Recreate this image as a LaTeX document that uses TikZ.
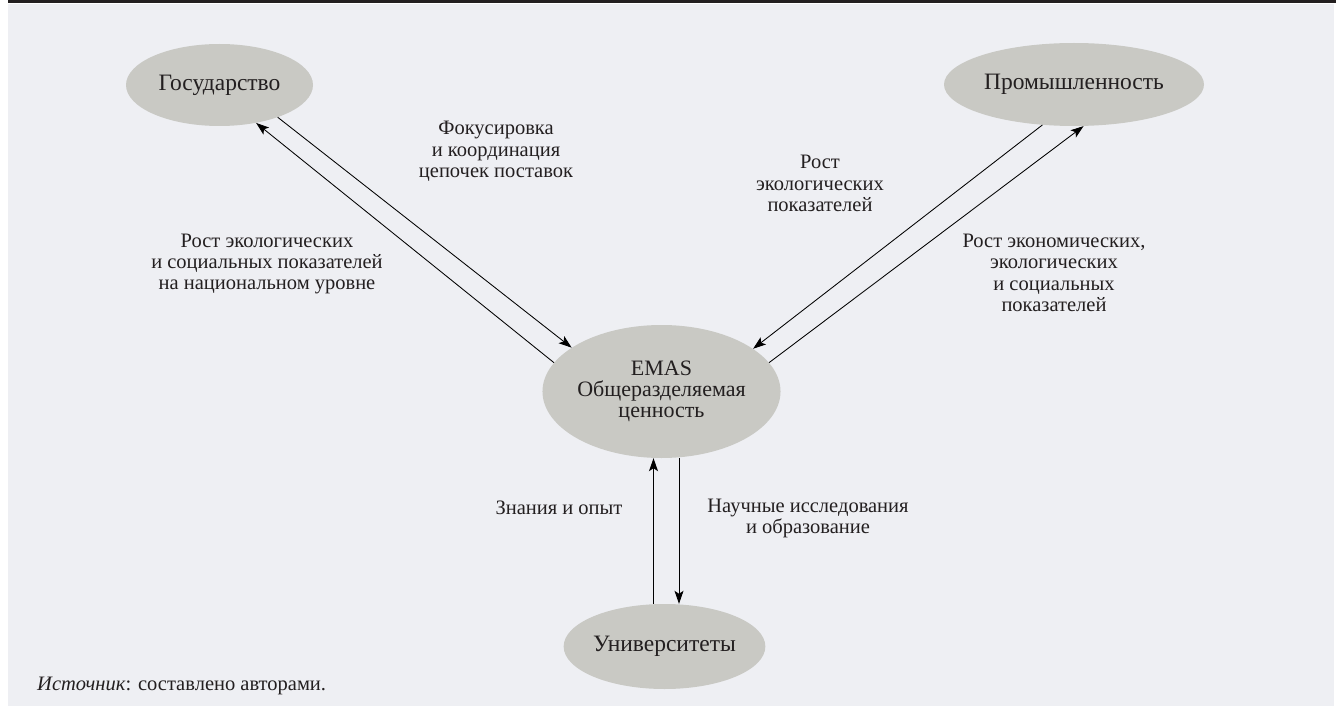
\documentclass[tikz,border=0pt]{standalone}
\usepackage{fontspec}
\setmainfont{Liberation Serif}
\usetikzlibrary{shapes.geometric,arrows.meta}
\definecolor{bg}{HTML}{EEEFF3}
\definecolor{ell}{HTML}{C9C9C4}
\definecolor{bar}{HTML}{231F20}
\definecolor{txt}{HTML}{231F20}
\begin{document}
\begin{tikzpicture}[x=1pt,y=-1pt,
  every node/.style={text=txt},
  blob/.style={ellipse,fill=ell,inner sep=0pt,align=center,font=\fontsize{23.5}{21.3}\selectfont},
  lbl/.style={align=center,inner sep=0pt,font=\fontsize{20.5}{21.3}\selectfont},
  arr/.style={-{Stealth[length=13pt,width=9pt,inset=3pt]},line width=0.85pt,draw=black}]
\useasboundingbox (0,0) rectangle (1336,706);
\fill[bg] (8,4) rectangle (1334,706);
\fill[bar] (8,0) rectangle (1336,3.5);
% nodes
\node[blob,minimum width=187pt,minimum height=82pt] (gos) at (219.5,85) {Государство};
\node[blob,minimum width=260pt,minimum height=83pt] (prom) at (1074,84.5) {Промышленность};
\node[blob,minimum width=233pt,minimum height=133pt,font=\fontsize{22}{21.3}\selectfont] (emas) at (661.5,391.5) {EMAS\\Общеразделяемая\\ценность};
\node[blob,minimum width=201pt,minimum height=85pt] (univ) at (664.5,646.5) {Университеты};
% helper coordinates for vertical connectors
\coordinate (upx) at (653.5,0);
\coordinate (dnx) at (679,0);
% connectors
\draw[arr] (gos.-29) -- (emas.154);
\draw[arr] (emas.165.7) -- (gos.-46.8);
\draw[arr] (prom.232.2) -- (emas.25.9);
\draw[arr] (emas.15.4) -- (prom.-77.7);
\draw[arr] (univ.north -| upx) -- (emas.south -| upx);
\draw[arr] (emas.south -| dnx) -- (univ.north -| dnx);
% labels
\node[lbl] (l1) at (496,151.5) {Фокусировка\\и координация\\цепочек поставок};
\node[lbl] (l2) at (267,264) {Рост экологических\\и социальных показателей\\на национальном уровне};
\node[lbl] (l3) at (820,183.5) {Рост\\экологических\\показателей};
\node[lbl] (l4) at (1054,272.75) {Рост экономических,\\экологических\\и социальных\\показателей};
\node[lbl] (l5) at (559,508) {Знания и опыт};
\node[lbl] (l6) at (808,518.5) {Научные исследования\\и образование};
\node[lbl,anchor=west] (src) at (37,686) {\textit{Источник}: составлено авторами.};
\end{tikzpicture}
\end{document}
